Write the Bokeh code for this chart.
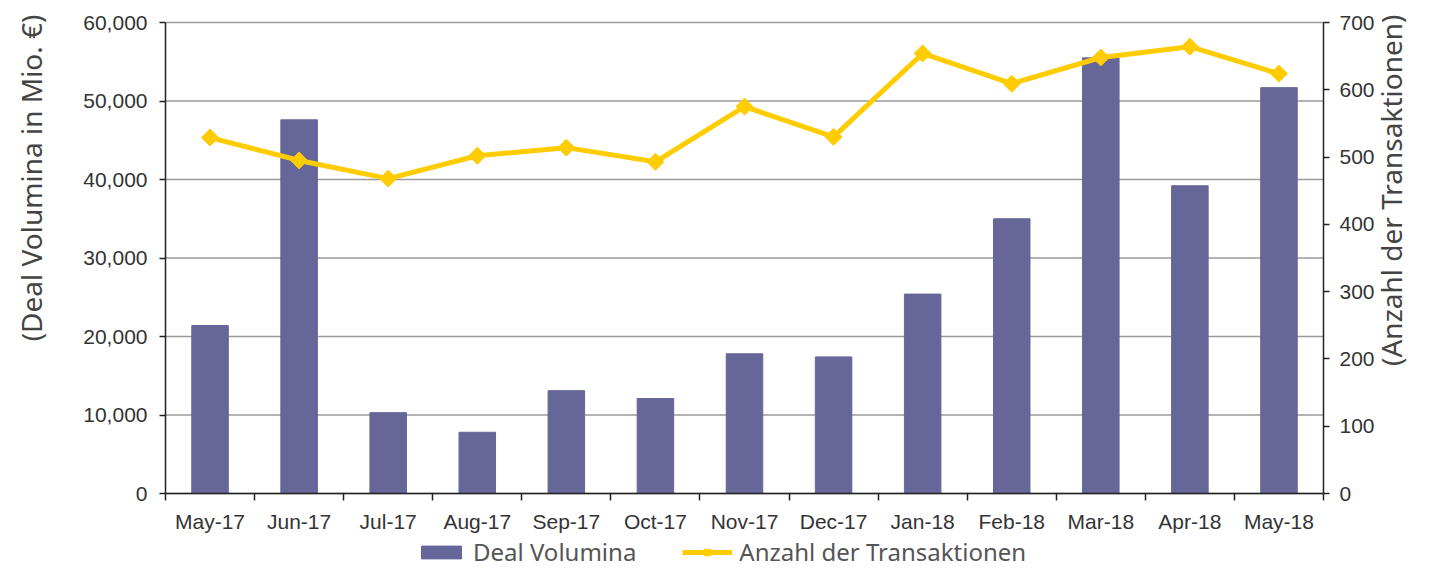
from math import pi
from bokeh.plotting import figure
from bokeh.models import (Range1d, LinearAxis, FixedTicker, NumeralTickFormatter,
                          Legend, LegendItem, Label)
from bokeh.embed import file_html
from bokeh.resources import INLINE

months = ["May-17", "Jun-17", "Jul-17", "Aug-17", "Sep-17", "Oct-17", "Nov-17",
          "Dec-17", "Jan-18", "Feb-18", "Mar-18", "Apr-18", "May-18"]
deal_volume = [21400, 47600, 10300, 7800, 13100, 12100, 17800, 17400, 25400,
               35000, 55500, 39200, 51700]
transactions = [529, 495, 468, 502, 514, 493, 575, 530, 654, 609, 648, 664, 624]
left_ticks = [0, 10000, 20000, 30000, 40000, 50000, 60000]
right_ticks = [0, 100, 200, 300, 400, 500, 600, 700]
left_title = "(Deal Volumina in Mio. €)"
right_title = "(Anzahl der Transaktionen)"
series_names = ["Deal Volumina", "Anzahl der Transaktionen"]

n = len(months)
xs = [i + 0.5 for i in range(n)]
L_MAX = left_ticks[-1]
R_MAX = right_ticks[-1]

# ---- canvas geometry (pixels) ----
W, H = 1413, 568
PX_LEFT, PX_RIGHT = 165, 1323     # plot area left / right edge
PX_TOP, PX_BOTTOM = 22, 493       # plot area top / bottom edge

ux = n / (PX_RIGHT - PX_LEFT)             # x units per px
uy = L_MAX / (PX_BOTTOM - PX_TOP)         # left units per px
ur = R_MAX / (PX_BOTTOM - PX_TOP)         # right units per px

x_range = Range1d(-PX_LEFT * ux, n + (W - PX_RIGHT) * ux)
y_range = Range1d(-(H - PX_BOTTOM) * uy, L_MAX + PX_TOP * uy)
r_range = Range1d(-(H - PX_BOTTOM) * ur, R_MAX + PX_TOP * ur)


def px_x(px):
    return x_range.start + px * ux


def px_y(py):
    return y_range.end - py * uy


TICK_FONT = "Liberation Sans"
TITLE_FONT = "Noto Sans"
BAR = "#666699"
LINE = "#FFCC00"
AXIS = "#222222"
GRID = "#9a9a9a"

p = figure(width=W, height=H, x_range=x_range, y_range=y_range,
           output_backend="svg", toolbar_location=None,
           min_border_left=0, min_border_right=0, min_border_top=0, min_border_bottom=0)
p.outline_line_color = None
p.xgrid.visible = False
p.ygrid.visible = False
p.extra_y_ranges = {"right": r_range}


def style_axis(ax, standoff):
    ax.major_label_standoff = standoff
    ax.major_label_text_font = TICK_FONT
    ax.major_label_text_font_size = "21px"
    ax.major_label_text_color = "#333333"
    ax.axis_line_color = AXIS
    ax.axis_line_width = 1.5
    ax.major_tick_line_color = AXIS
    ax.major_tick_line_width = 1.5
    ax.minor_tick_line_color = None


# horizontal grid lines (left-axis ticks) across the plot area
p.segment(x0=[0] * len(left_ticks), x1=[n] * len(left_ticks), y0=left_ticks, y1=left_ticks,
          line_color=GRID, line_width=1.5)

# bars and line
bars = p.vbar(x=xs, top=deal_volume, bottom=0, width=0.41, fill_color=BAR, line_color=BAR)
line = p.line(xs, transactions, y_range_name="right", line_color=LINE, line_width=5)
marks = p.scatter(xs, transactions, y_range_name="right", marker="square", angle=pi / 4,
                  size=12, fill_color=LINE, line_color=LINE)

# x axis
xa = p.xaxis[0]
xa.fixed_location = 0
xa.bounds = (0, n)
xa.ticker = FixedTicker(ticks=xs, minor_ticks=list(range(n + 1)))
xa.major_label_overrides = {x: m for x, m in zip(xs, months)}
style_axis(xa, 9)
xa.major_tick_out = 0
xa.major_tick_in = 0
xa.minor_tick_out = 7
xa.minor_tick_in = 0
xa.minor_tick_line_color = AXIS
xa.minor_tick_line_width = 1.5

# left axis
ya = p.yaxis[0]
ya.fixed_location = 0
ya.bounds = (0, L_MAX)
ya.ticker = FixedTicker(ticks=left_ticks)
ya.formatter = NumeralTickFormatter(format="0,0")
style_axis(ya, 12)
ya.major_tick_out = 6
ya.major_tick_in = 0

# right axis
ra = LinearAxis(y_range_name="right", fixed_location=n, bounds=(0, R_MAX),
                ticker=FixedTicker(ticks=right_ticks))
style_axis(ra, 10)
ra.major_tick_out = 6
ra.major_tick_in = 0
p.add_layout(ra, "right")

# axis titles (rotated, reading bottom to top)
for text, px, size in [(left_title, 30, "28px"), (right_title, 1390, "28px")]:
    p.add_layout(Label(x=px_x(px), y=px_y(14), text=text, angle=pi / 2,
                       text_align="right", text_baseline="middle",
                       text_font=TITLE_FONT, text_font_size=size,
                       text_color="#444444"))

legend = Legend(items=[LegendItem(label=series_names[0], renderers=[bars]),
                       LegendItem(label=series_names[1], renderers=[line, marks])],
                location=(416, 0), orientation="horizontal",
                glyph_width=50, glyph_height=16, label_standoff=7, spacing=46,
                padding=0, margin=0, border_line_color=None, background_fill_alpha=0,
                label_text_font=TITLE_FONT, label_text_font_size="24px",
                label_text_color="#555555")
p.add_layout(legend, "center")

open("out.html", "w").write(file_html(p, INLINE))
